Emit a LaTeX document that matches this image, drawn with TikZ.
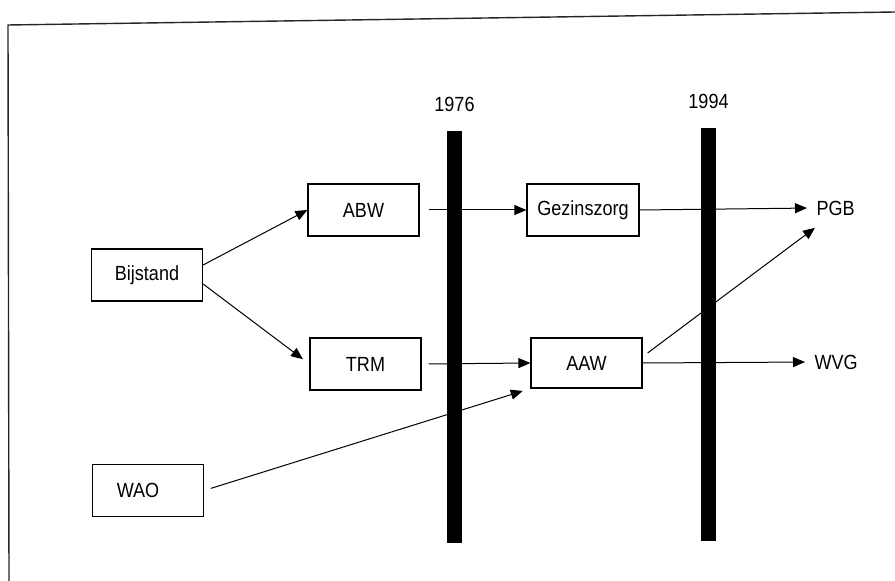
\documentclass[tikz,border=0pt]{standalone}
\usepackage{fontspec}
\setmainfont{Liberation Sans}
\newfontfamily\narrowsans[FakeStretch=0.88]{Liberation Sans}
\usetikzlibrary{arrows.meta, positioning, calc}

\begin{document}
\begin{tikzpicture}[
        x=1pt, y=1pt,
        % Styles for boxes, bars and arrows
        block/.style={
            rectangle,
            draw,
            line width=1.2pt,
            minimum width=111pt,
            minimum height=52pt,
            inner sep=0pt,
            align=center,
            font=\narrowsans\fontsize{20.5}{22}\selectfont
        },
        bar/.style={
            rectangle,
            fill=black,
            minimum width=15pt,
            inner sep=0pt
        },
        arrow/.style={
            -{Triangle[length=12pt, width=10pt]},
            line width=1pt
        },
        year/.style={
            font=\narrowsans\fontsize{20.5}{22}\selectfont
        },
        endlabel/.style={
            anchor=west,
            font=\narrowsans\fontsize{20.5}{22}\selectfont
        },
        frame/.style={
            line width=1.4pt,
            draw=black!85
        }
    ]

    \useasboundingbox (0,0) rectangle (895,581);

    % --- 1. FRAME ---
    \coordinate (ftl) at (8,556);
    \draw[frame] (895,569) -- (ftl) -- (9,0);

    % --- 2. YEAR BARS ---
    \node[bar, minimum height=412pt] (bar76) at (454.5,244) {};
    \node[bar, minimum height=413pt] (bar94) at (708.5,246.5) {};
    \node[year, above=16pt of bar76] (y76) {1976};
    \node[year, above=16pt of bar94] (y94) {1994};

    % --- 3. BOXES ---
    \node[block] (bijstand) at (147,306) {Bijstand};
    \node[block] (abw) at (363.5,371) {ABW};
    \node[block] (trm) at (365.5,217) {TRM};
    \node[block] (wao) at (148,90.5) {\hspace*{-20pt}WAO};
    \node[block, minimum width=112pt] (gez) at (583,371) {Gezinszorg};
    \node[block, minimum height=50pt] (aaw) at (586.5,218) {AAW};

    % end labels (no box)
    \node[endlabel] (pgb) at (813,373) {PGB};
    \node[endlabel] (wvg) at (811,219) {WVG};

    % --- 4. ARROWS ---
    \draw[arrow] ($(bijstand.east)+(0,10)$) -- (abw.west);
    \draw[arrow, shorten >=8pt] ($(bijstand.east)+(0,-9)$) -- (trm.west);

    \draw[arrow, shorten <=9pt] (abw.east) -- (gez.west);
    \draw[arrow, shorten <=7pt] (trm.east) -- (aaw.west);
    \draw[arrow, shorten <=7pt, shorten >=8pt] (wao.east) -- (aaw.south west);

    \draw[arrow, shorten >=6pt] (gez.east) -- (pgb.west);
    \draw[arrow] ($(aaw.east)+(5,10)$) -- ($(pgb.south west)+(2,-9)$);
    \draw[arrow, shorten >=6pt] (aaw.east) -- (wvg.west);

\end{tikzpicture}
\end{document}
